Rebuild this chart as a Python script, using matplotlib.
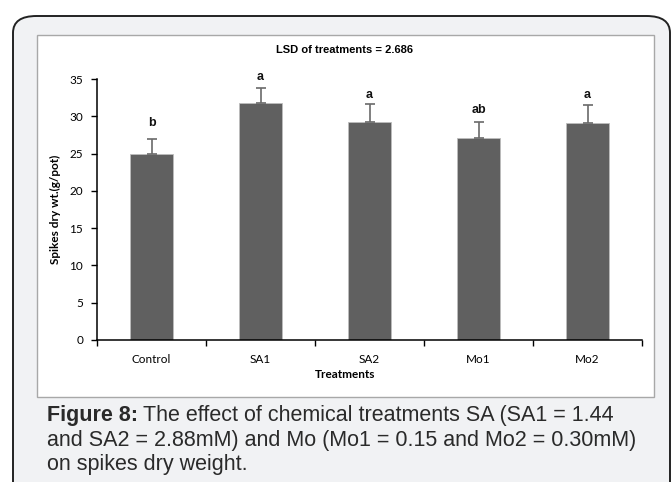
import matplotlib
matplotlib.use("Agg")
import matplotlib.pyplot as plt
from matplotlib.patches import FancyBboxPatch, Rectangle

# --- dados ---
tratamentos = ["Control", "SA1", "SA2", "Mo1", "Mo2"]
peso_seco = [24.9, 31.8, 29.3, 27.1, 29.1]
erro = [2.0, 2.0, 2.3, 2.1, 2.4]
letras = ["b", "a", "a", "ab", "a"]
pos_letra = [29.1, 35.3, 32.8, 30.8, 32.9]
yticks = [0, 5, 10, 15, 20, 25, 30, 35]

W, H = 672, 482


def fx(px):
    return px / W


def fy(py):
    return 1 - py / H


fig = plt.figure(figsize=(W / 100, H / 100), dpi=100)
fig.patch.set_facecolor("white")

# moldura externa arredondada (fundo cinza claro)
caixa = FancyBboxPatch((fx(13), fy(500)), fx(657), fy(16) - fy(500),
                       boxstyle="round,pad=0,rounding_size=0.035",
                       transform=fig.transFigure, fc="#f1f2f4", ec="#222222",
                       lw=1.4, zorder=-2)
fig.patches.append(caixa)

# area branca do grafico
fundo = Rectangle((fx(37), fy(397)), fx(617), fy(35) - fy(397),
                  transform=fig.transFigure, fc="white", ec="#a8a8a8",
                  lw=1.0, zorder=-1)
fig.patches.append(fundo)

ax = fig.add_axes([fx(97), fy(340), fx(545), fy(79) - fy(340)])
ax.set_facecolor("none")
ax.set_zorder(1)

x = range(len(tratamentos))
ax.bar(x, peso_seco, width=0.4, color="#606060", edgecolor="#bdbdbd", lw=0.6,
       zorder=2)
ax.errorbar(x, peso_seco, yerr=[[0] * len(erro), erro], fmt="none",
            ecolor="#6a6a6a", elinewidth=1.2, capsize=3.5, capthick=1.2,
            zorder=3)

for i, (l, p) in enumerate(zip(letras, pos_letra)):
    ax.text(i, p, l, ha="center", va="center", fontsize=9, fontweight="bold",
            family="Liberation Sans", color="#111111", clip_on=False)

ax.set_xlim(-0.5, len(tratamentos) - 0.5)
ax.set_ylim(0, 35)
ax.set_yticks(yticks)
ax.set_yticklabels([str(v) for v in yticks], family="Lato", fontsize=8.5)
ax.set_xticks([i + 0.5 for i in range(-1, len(tratamentos))])
ax.set_xticklabels([])
ax.tick_params(axis="both", direction="out", length=4, width=1, color="black")
ax.tick_params(axis="y", pad=6)
for i, t in enumerate(tratamentos):
    ax.text(i, -0.075, t, transform=ax.get_xaxis_transform(), ha="center",
            va="center", family="Lato", fontsize=8.5)

for s in ["top", "right"]:
    ax.spines[s].set_visible(False)
for s in ["left", "bottom"]:
    ax.spines[s].set_linewidth(1.1)
    ax.spines[s].set_color("black")

ax.set_ylabel("Spikes dry wt.(g/pot)", family="Lato", fontsize=8.5,
              fontweight="bold")
ax.yaxis.set_label_coords(-0.066, 0.5)

fig.text(fx(345), fy(375), "Treatments", ha="center", va="center",
         family="Lato", fontsize=8.5, fontweight="bold")
fig.text(fx(345), fy(50), "LSD of treatments = 2.686", ha="center",
         va="center", family="Liberation Sans", fontsize=8, fontweight="bold")

# legenda da figura
fam = "Liberation Sans"
tam = 15.5
cor = "#2a2a2a"
t1 = fig.text(fx(47), fy(421), "Figure 8:", ha="left", va="baseline",
              family=fam, fontsize=tam, fontweight="bold", color=cor)
fig.canvas.draw()
bb = t1.get_window_extent()
fig.text(bb.x1 / W + fx(5), fy(421),
         "The effect of chemical treatments SA (SA1 = 1.44", ha="left",
         va="baseline", family=fam, fontsize=tam, color=cor)
fig.text(fx(47), fy(446),
         "and SA2 = 2.88mM) and Mo (Mo1 = 0.15 and Mo2 = 0.30mM)",
         ha="left", va="baseline", family=fam, fontsize=tam, color=cor)
fig.text(fx(47), fy(470), "on spikes dry weight.", ha="left", va="baseline",
         family=fam, fontsize=tam, color=cor)

fig.savefig("out.png", dpi=100)
